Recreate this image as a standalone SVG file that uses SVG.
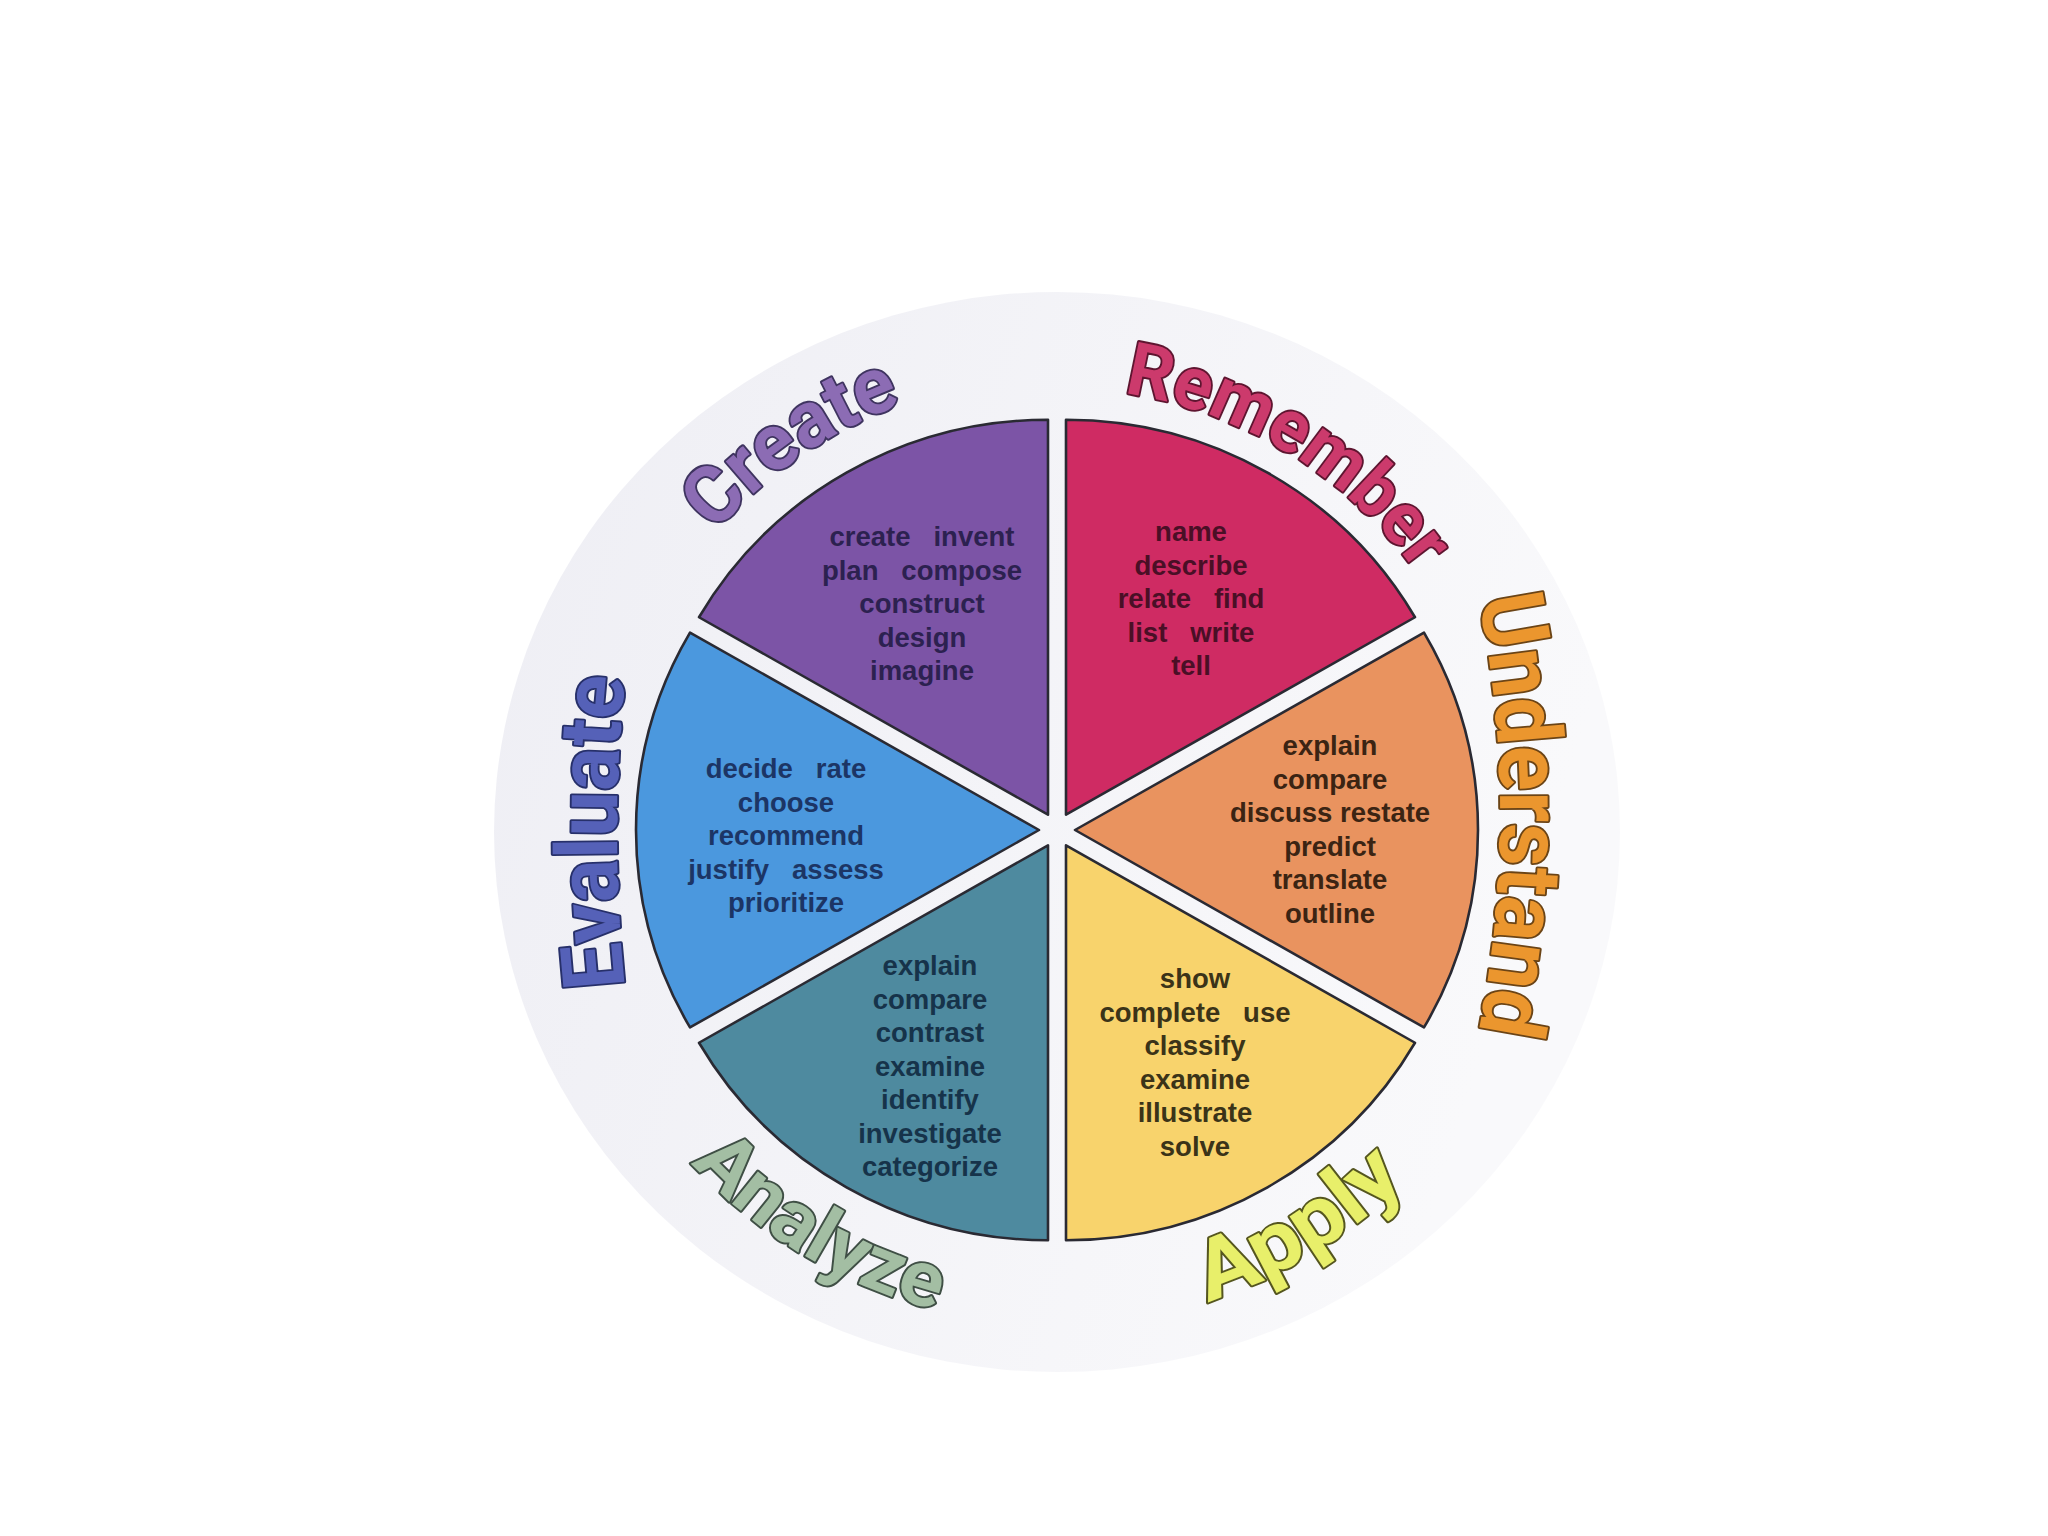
<svg xmlns="http://www.w3.org/2000/svg" width="2048" height="1536" viewBox="0 0 2048 1536">
<defs>
<style>
.wedge{stroke:#2a2a33;stroke-width:2.6;stroke-linejoin:round}
.words{font-family:"Liberation Sans",Arial,sans-serif;font-size:27.5px;font-weight:700;text-anchor:middle}
.lbl{font-family:Roboto,"Open Sans",sans-serif;font-weight:700;stroke-width:3.8;stroke-linejoin:round;paint-order:stroke fill}
</style>
<linearGradient id="discGrad" x1="0" y1="0" x2="1" y2="0.3">
<stop offset="0" stop-color="#eeeef4"/>
<stop offset="1" stop-color="#f9f9fb"/>
</linearGradient>
<path id="arcCreate" d="M 605.4 865.5 A 453 453 0 0 1 1252.0 421.1"/>
<path id="arcRemember" d="M 846.1 441.6 A 442 442 0 0 1 1498.8 841.6"/>
<path id="arcUnderstand" d="M 1322 215 A 1100 1100 0 0 1 1322 1415"/>
<path id="arcEvaluate" d="M 702.8 1332 A 1500 1500 0 0 1 702.8 332"/>
<path id="arcApply" d="M 819.3 1264.2 A 495 495 0 0 0 1551.9 818.8"/>
<path id="arcAnalyze" d="M 562.1 822.2 A 495 495 0 0 0 1297.7 1262.5"/>
</defs>
<rect x="0" y="0" width="2048" height="1536" fill="#ffffff"/>
<ellipse id="disc" cx="1057" cy="832" rx="563" ry="540" fill="url(#discGrad)"/>

<g id="create">
<path class="wedge" fill="#7c54a6" transform="translate(1057 830) scale(1 0.98)" d="M -9 -15.59 L -358 -217.09 A 403 403 0 0 1 -9 -418.59 Z"/>
<text class="words" fill="#2c2150" xml:space="preserve"><tspan x="922" y="546">create   invent</tspan><tspan x="922" y="579.5">plan   compose</tspan><tspan x="922" y="613">construct</tspan><tspan x="922" y="646.5">design</tspan><tspan x="922" y="680">imagine</tspan></text>
<text class="lbl" font-size="80" fill="#8c6cb4" stroke="#3f3460"><textPath href="#arcCreate" startOffset="50%" text-anchor="middle" textLength="229" lengthAdjust="spacingAndGlyphs">Create</textPath></text>
</g>

<g id="remember">
<path class="wedge" fill="#cf2b63" transform="translate(1057 830) scale(1 0.98)" d="M 9 -15.59 L 9 -418.59 A 403 403 0 0 1 358 -217.09 Z"/>
<text class="words" fill="#4a0f26" xml:space="preserve"><tspan x="1191" y="541">name</tspan><tspan x="1191" y="574.5">describe</tspan><tspan x="1191" y="608">relate   find</tspan><tspan x="1191" y="641.5">list   write</tspan><tspan x="1191" y="675">tell</tspan></text>
<text class="lbl" font-size="74" fill="#cc3a6c" stroke="#5e1530"><textPath href="#arcRemember" startOffset="50%" text-anchor="middle" textLength="352" lengthAdjust="spacingAndGlyphs">Remember</textPath></text>
</g>

<g id="understand">
<path class="wedge" fill="#e9935f" transform="translate(1057 830) scale(1 0.98)" d="M 18 0 L 367 -201.5 A 403 403 0 0 1 367 201.5 Z"/>
<text class="words" fill="#3b2413" xml:space="preserve"><tspan x="1330" y="755">explain</tspan><tspan x="1330" y="788.5">compare</tspan><tspan x="1330" y="822">discuss restate</tspan><tspan x="1330" y="855.5">predict</tspan><tspan x="1330" y="889">translate</tspan><tspan x="1330" y="922.5">outline</tspan></text>
<text class="lbl" font-size="90" fill="#eb962e" stroke="#6b4416"><textPath href="#arcUnderstand" startOffset="50%" text-anchor="middle" textLength="436" lengthAdjust="spacingAndGlyphs">Understand</textPath></text>
</g>

<g id="apply">
<path class="wedge" fill="#f8d36c" transform="translate(1057 830) scale(1 0.98)" d="M 9 15.59 L 358 217.09 A 403 403 0 0 1 9 418.59 Z"/>
<text class="words" fill="#3b3318" xml:space="preserve"><tspan x="1195" y="988">show</tspan><tspan x="1195" y="1021.5">complete   use</tspan><tspan x="1195" y="1055">classify</tspan><tspan x="1195" y="1088.5">examine</tspan><tspan x="1195" y="1122">illustrate</tspan><tspan x="1195" y="1155.5">solve</tspan></text>
<text class="lbl" font-size="84" fill="#e8ef6a" stroke="#55561f"><textPath href="#arcApply" startOffset="50%" text-anchor="middle" textLength="235" lengthAdjust="spacingAndGlyphs">Apply</textPath></text>
</g>

<g id="analyze">
<path class="wedge" fill="#4e8a9f" transform="translate(1057 830) scale(1 0.98)" d="M -9 15.59 L -9 418.59 A 403 403 0 0 1 -358 217.09 Z"/>
<text class="words" fill="#16334a" xml:space="preserve"><tspan x="930" y="975">explain</tspan><tspan x="930" y="1008.5">compare</tspan><tspan x="930" y="1042">contrast</tspan><tspan x="930" y="1075.5">examine</tspan><tspan x="930" y="1109">identify</tspan><tspan x="930" y="1142.5">investigate</tspan><tspan x="930" y="1176">categorize</tspan></text>
<text class="lbl" font-size="78" fill="#a3bea3" stroke="#3f4f45"><textPath href="#arcAnalyze" startOffset="50%" text-anchor="middle" textLength="290" lengthAdjust="spacingAndGlyphs">Analyze</textPath></text>
</g>

<g id="evaluate">
<path class="wedge" fill="#4b98de" transform="translate(1057 830) scale(1 0.98)" d="M -18 0 L -367 201.5 A 403 403 0 0 1 -367 -201.5 Z"/>
<text class="words" fill="#1c3565" xml:space="preserve"><tspan x="786" y="778">decide   rate</tspan><tspan x="786" y="811.5">choose</tspan><tspan x="786" y="845">recommend</tspan><tspan x="786" y="878.5">justify   assess</tspan><tspan x="786" y="912">prioritize</tspan></text>
<text class="lbl" font-size="86" fill="#5561b8" stroke="#27306a"><textPath href="#arcEvaluate" startOffset="50%" text-anchor="middle" textLength="310" lengthAdjust="spacingAndGlyphs">Evaluate</textPath></text>
</g>
</svg>
